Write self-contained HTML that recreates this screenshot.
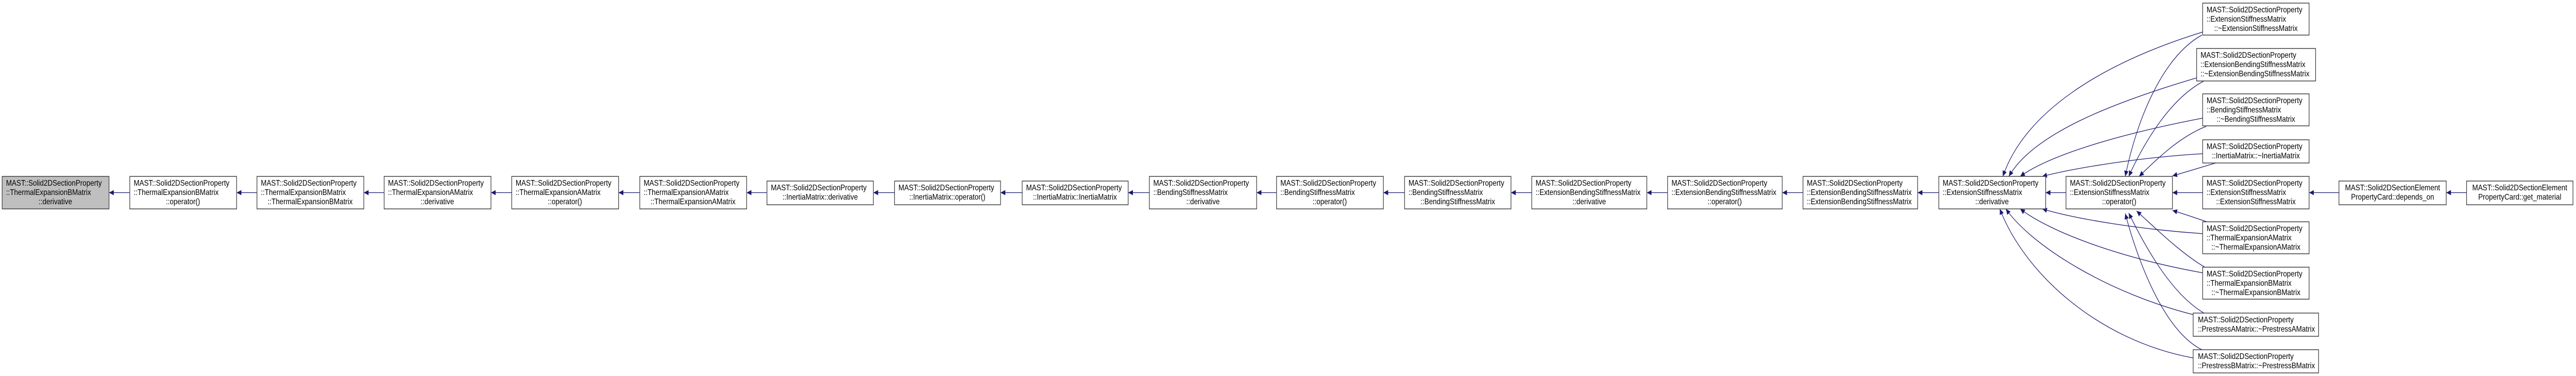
<!DOCTYPE html>
<html><head><meta charset="utf-8"><style>
html,body{margin:0;padding:0;background:#fff;width:100%;height:100%;overflow:hidden;}
svg{display:block;width:100vw;height:100vh;}
text{font-family:"Liberation Sans",Arial,sans-serif;font-size:16px;fill:#000;}
.m{text-anchor:middle;}
rect{fill:#fff;stroke:#404040;stroke-width:1.5;}
.e{fill:none;stroke:#191970;stroke-width:1.3;marker-end:url(#a);}
</style></head><body>
<svg viewBox="0 0 5955 729" preserveAspectRatio="none" xmlns="http://www.w3.org/2000/svg">
<defs><marker id="a" markerWidth="12" markerHeight="10" refX="11" refY="5" orient="auto" markerUnits="userSpaceOnUse"><path d="M0,0 L11,5 L0,10 z" fill="#191970"/></marker></defs>

<path class="e" d="M300,373.5 L252,373.5"/>
<path class="e" d="M594,373.5 L547,373.5"/>
<path class="e" d="M888,373.5 L841,373.5"/>
<path class="e" d="M1183,373.5 L1135,373.5"/>
<path class="e" d="M1479,373.5 L1430,373.5"/>
<path class="e" d="M1773,373.5 L1726,373.5"/>
<path class="e" d="M2068,373.5 L2019,373.5"/>
<path class="e" d="M2363,373.5 L2313,373.5"/>
<path class="e" d="M2657,373.5 L2608,373.5"/>
<path class="e" d="M2951,373.5 L2905,373.5"/>
<path class="e" d="M3247,373.5 L3198,373.5"/>
<path class="e" d="M3541,373.5 L3493,373.5"/>
<path class="e" d="M3855,373.5 L3807,373.5"/>
<path class="e" d="M4168,373.5 L4120,373.5"/>
<path class="e" d="M4482,373.5 L4433,373.5"/>
<path class="e" d="M4776,373.5 L4729,373.5"/>
<path class="e" d="M5092,373.5 L5022,373.5"/>
<path class="e" d="M5407,373.5 L5338,373.5"/>
<path class="e" d="M5702,373.5 L5655,373.5"/>

<path class="e" d="M5092,62 C4850,125 4680,220 4630,342"/>
<path class="e" d="M5078,151 C4880,200 4700,260 4644,342"/>
<path class="e" d="M5092,229 C4900,260 4740,300 4670,342"/>
<path class="e" d="M5092,298 C4950,305 4800,325 4721,342"/>
<path class="e" d="M5092,453 C4950,445 4800,425 4721,405"/>
<path class="e" d="M5092,529 C4900,500 4740,450 4670,405"/>
<path class="e" d="M5070,610 C4880,570 4700,480 4637,405"/>
<path class="e" d="M5070,694 C4850,660 4680,530 4623,405"/>
<path class="e" d="M5090,68 C5000,110 4940,230 4913,342"/>
<path class="e" d="M5095,157 C5020,190 4960,270 4921,342"/>
<path class="e" d="M5100,245 C5040,265 4990,305 4945,342"/>
<path class="e" d="M5122,316 C5090,324 5060,332 5022,341"/>
<path class="e" d="M5102,430 C5080,424 5050,415 5022,408"/>
<path class="e" d="M5097,518 C5040,490 4980,440 4939,409"/>
<path class="e" d="M5095,607 C5020,570 4960,480 4921,413"/>
<path class="e" d="M5090,678 C5000,640 4940,500 4913,414"/>

<rect x="5" y="342" width="247" height="63" style="fill:#bfbfbf"/>
<text x="14" y="360">MAST::Solid2DSectionProperty</text><text x="14" y="378">::ThermalExpansionBMatrix</text><text class="m" x="128" y="396">::derivative</text>

<rect x="300" y="342" width="247" height="63"/>
<text x="309" y="360">MAST::Solid2DSectionProperty</text><text x="309" y="378">::ThermalExpansionBMatrix</text><text class="m" x="423" y="396">::operator()</text>

<rect x="594" y="342" width="247" height="63"/>
<text x="603" y="360">MAST::Solid2DSectionProperty</text><text x="603" y="378">::ThermalExpansionBMatrix</text><text class="m" x="717" y="396">::ThermalExpansionBMatrix</text>

<rect x="888" y="342" width="247" height="63"/>
<text x="897" y="360">MAST::Solid2DSectionProperty</text><text x="897" y="378">::ThermalExpansionAMatrix</text><text class="m" x="1011" y="396">::derivative</text>

<rect x="1183" y="342" width="247" height="63"/>
<text x="1192" y="360">MAST::Solid2DSectionProperty</text><text x="1192" y="378">::ThermalExpansionAMatrix</text><text class="m" x="1306" y="396">::operator()</text>

<rect x="1479" y="342" width="247" height="63"/>
<text x="1488" y="360">MAST::Solid2DSectionProperty</text><text x="1488" y="378">::ThermalExpansionAMatrix</text><text class="m" x="1602" y="396">::ThermalExpansionAMatrix</text>

<rect x="1773" y="351" width="246" height="46"/>
<text x="1782" y="369">MAST::Solid2DSectionProperty</text><text class="m" x="1896" y="387">::InertiaMatrix::derivative</text>

<rect x="2068" y="351" width="245" height="46"/>
<text x="2077" y="369">MAST::Solid2DSectionProperty</text><text class="m" x="2190" y="387">::InertiaMatrix::operator()</text>

<rect x="2363" y="351" width="245" height="46"/>
<text x="2372" y="369">MAST::Solid2DSectionProperty</text><text class="m" x="2485" y="387">::InertiaMatrix::InertiaMatrix</text>

<rect x="2657" y="342" width="248" height="63"/>
<text x="2666" y="360">MAST::Solid2DSectionProperty</text><text x="2666" y="378">::BendingStiffnessMatrix</text><text class="m" x="2781" y="396">::derivative</text>

<rect x="2951" y="342" width="247" height="63"/>
<text x="2960" y="360">MAST::Solid2DSectionProperty</text><text x="2960" y="378">::BendingStiffnessMatrix</text><text class="m" x="3074" y="396">::operator()</text>

<rect x="3247" y="342" width="246" height="63"/>
<text x="3256" y="360">MAST::Solid2DSectionProperty</text><text x="3256" y="378">::BendingStiffnessMatrix</text><text class="m" x="3370" y="396">::BendingStiffnessMatrix</text>

<rect x="3541" y="342" width="266" height="63"/>
<text x="3550" y="360">MAST::Solid2DSectionProperty</text><text x="3550" y="378">::ExtensionBendingStiffnessMatrix</text><text class="m" x="3674" y="396">::derivative</text>

<rect x="3855" y="342" width="265" height="63"/>
<text x="3864" y="360">MAST::Solid2DSectionProperty</text><text x="3864" y="378">::ExtensionBendingStiffnessMatrix</text><text class="m" x="3987" y="396">::operator()</text>

<rect x="4168" y="342" width="265" height="63"/>
<text x="4177" y="360">MAST::Solid2DSectionProperty</text><text x="4177" y="378">::ExtensionBendingStiffnessMatrix</text><text x="4177" y="396">::ExtensionBendingStiffnessMatrix</text>

<rect x="4482" y="342" width="247" height="63"/>
<text x="4491" y="360">MAST::Solid2DSectionProperty</text><text x="4491" y="378">::ExtensionStiffnessMatrix</text><text class="m" x="4605" y="396">::derivative</text>

<rect x="4776" y="342" width="246" height="63"/>
<text x="4785" y="360">MAST::Solid2DSectionProperty</text><text x="4785" y="378">::ExtensionStiffnessMatrix</text><text class="m" x="4899" y="396">::operator()</text>

<rect x="5092" y="6" width="246" height="62"/>
<text x="5101" y="24">MAST::Solid2DSectionProperty</text><text x="5101" y="42">::ExtensionStiffnessMatrix</text><text class="m" x="5215" y="60">::~ExtensionStiffnessMatrix</text>

<rect x="5078" y="94" width="275" height="63"/>
<text x="5087" y="112">MAST::Solid2DSectionProperty</text><text x="5087" y="130">::ExtensionBendingStiffnessMatrix</text><text x="5087" y="148">::~ExtensionBendingStiffnessMatrix</text>

<rect x="5092" y="182" width="246" height="62"/>
<text x="5101" y="200">MAST::Solid2DSectionProperty</text><text x="5101" y="218">::BendingStiffnessMatrix</text><text class="m" x="5215" y="236">::~BendingStiffnessMatrix</text>

<rect x="5092" y="271" width="246" height="45"/>
<text x="5101" y="289">MAST::Solid2DSectionProperty</text><text class="m" x="5215" y="307">::InertiaMatrix::~InertiaMatrix</text>

<rect x="5092" y="342" width="246" height="63"/>
<text x="5101" y="360">MAST::Solid2DSectionProperty</text><text x="5101" y="378">::ExtensionStiffnessMatrix</text><text class="m" x="5215" y="396">::ExtensionStiffnessMatrix</text>

<rect x="5092" y="430" width="246" height="62"/>
<text x="5101" y="448">MAST::Solid2DSectionProperty</text><text x="5101" y="466">::ThermalExpansionAMatrix</text><text class="m" x="5215" y="484">::~ThermalExpansionAMatrix</text>

<rect x="5092" y="518" width="246" height="62"/>
<text x="5101" y="536">MAST::Solid2DSectionProperty</text><text x="5101" y="554">::ThermalExpansionBMatrix</text><text class="m" x="5215" y="572">::~ThermalExpansionBMatrix</text>

<rect x="5070" y="607" width="290" height="45"/>
<text x="5081" y="625">MAST::Solid2DSectionProperty</text><text x="5081" y="643">::PrestressAMatrix::~PrestressAMatrix</text>

<rect x="5070" y="678" width="290" height="45"/>
<text x="5081" y="696">MAST::Solid2DSectionProperty</text><text x="5081" y="714">::PrestressBMatrix::~PrestressBMatrix</text>

<rect x="5407" y="351" width="248" height="46"/>
<text class="m" x="5531" y="369">MAST::Solid2DSectionElement</text><text class="m" x="5531" y="387">PropertyCard::depends_on</text>

<rect x="5702" y="351" width="246" height="46"/>
<text class="m" x="5825" y="369">MAST::Solid2DSectionElement</text><text class="m" x="5825" y="387">PropertyCard::get_material</text>
</svg>
</body></html>
